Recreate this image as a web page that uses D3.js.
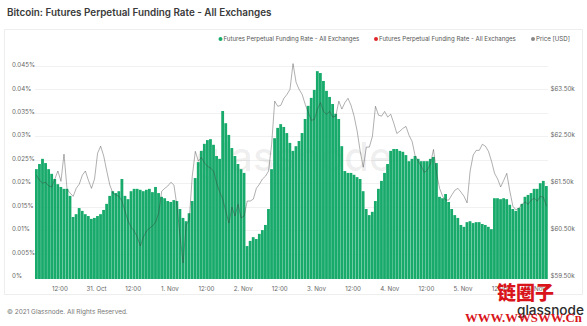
<!DOCTYPE html>
<html>
<head>
<meta charset="utf-8">
<script src="https://cdn.jsdelivr.net/npm/d3@7"></script>
<style>
  body { margin: 0; background: #fff; }
  svg { display: block; font-family: Inter, 'Noto Sans', sans-serif; }
</style>
</head>
<body>
<div id="chart"></div>
<script>
// hourly data, first bar = 30 Oct 2021 04:00 UTC
const startTime = Date.UTC(2021, 9, 30, 4);
const hour = 3600 * 1000;

// funding rate in percent
const fundingRate = [
  0.0230, 0.0241, 0.0252, 0.0243, 0.0230, 0.0220, 0.0209, 0.0198, 0.0192, 0.0188, 0.0188, 0.0173,
  0.0128, 0.0134, 0.0147, 0.0141, 0.0134, 0.0130, 0.0124, 0.0126, 0.0130, 0.0134, 0.0143, 0.0156,
  0.0173, 0.0183, 0.0179, 0.0183, 0.0209, 0.0173, 0.0166, 0.0183, 0.0188, 0.0188, 0.0186, 0.0183,
  0.0186, 0.0188, 0.0181, 0.0192, 0.0179, 0.0171, 0.0168, 0.0162, 0.0160, 0.0164, 0.0162, 0.0145,
  0.0126, 0.0119, 0.0136, 0.0162, 0.0211, 0.0245, 0.0269, 0.0284, 0.0292, 0.0294, 0.0282, 0.0258,
  0.0252, 0.0354, 0.0328, 0.0303, 0.0275, 0.0258, 0.0241, 0.0230, 0.0222, 0.0066, 0.0077, 0.0085,
  0.0081, 0.0092, 0.0100, 0.0111, 0.0145, 0.0230, 0.0296, 0.0318, 0.0326, 0.0320, 0.0307, 0.0286,
  0.0269, 0.0279, 0.0290, 0.0307, 0.0337, 0.0365, 0.0382, 0.0399, 0.0439, 0.0435, 0.0418, 0.0397,
  0.0384, 0.0369, 0.0348, 0.0337, 0.0279, 0.0226, 0.0222, 0.0222, 0.0218, 0.0213, 0.0209, 0.0183,
  0.0145, 0.0132, 0.0139, 0.0162, 0.0188, 0.0205, 0.0222, 0.0241, 0.0269, 0.0273, 0.0273, 0.0269,
  0.0267, 0.0260, 0.0247, 0.0252, 0.0258, 0.0252, 0.0247, 0.0247, 0.0247, 0.0252, 0.0256, 0.0243,
  0.0171, 0.0168, 0.0177, 0.0160, 0.0145, 0.0132, 0.0126, 0.0111, 0.0107, 0.0117, 0.0119, 0.0115,
  0.0117, 0.0117, 0.0113, 0.0111, 0.0107, 0.0102, 0.0168, 0.0168, 0.0166, 0.0168, 0.0166, 0.0154,
  0.0145, 0.0141, 0.0147, 0.0156, 0.0171, 0.0175, 0.0179, 0.0188, 0.0188, 0.0200, 0.0205, 0.0194
];

// BTC price, USD
const priceUsd = [
  61670, 61560, 61500, 61520, 61440, 61420, 61590, 61760, 61540, 62120, 61370, 61290,
  61220, 61390, 61480, 61670, 61760, 61560, 61390, 61590, 62140, 62290, 62080, 61760,
  61460, 61290, 61250, 61220, 61120, 60900, 60690, 60560, 60480, 60350, 60160, 60350,
  60480, 60540, 60590, 60670, 60860, 61330, 61390, 61440, 61520, 61460, 61010, 60370,
  59800, 60610, 60710, 61650, 62180, 61970, 62050, 61930, 61860, 61820, 61760, 61500,
  61310, 61160, 60900, 60650, 60990, 60800, 61050, 60760, 60800, 61120, 61120, 61160,
  61390, 61480, 61590, 61650, 61760, 62330, 63250, 63140, 63160, 63310, 63390, 63500,
  64050, 63650, 63500, 63390, 63180, 63010, 62840, 62860, 63080, 63220, 63030, 62970,
  63030, 62910, 62930, 63250, 63080, 63220, 63310, 63160, 62930, 62610, 62180, 61840,
  62270, 62270, 62500, 63140, 62950, 62930, 63030, 62910, 62970, 62780, 62560, 62610,
  62670, 62710, 62520, 62390, 62080, 61970, 61860, 61730, 61780, 61910, 62220, 61710,
  61390, 61220, 61140, 61140, 61250, 61350, 61390, 61310, 61220, 61080, 61760, 62100,
  62200, 62200, 62330, 62290, 62180, 61970, 61710, 61590, 61420, 61560, 61710, 61330,
  61010, 60930, 60970, 61050, 61100, 61050, 61140, 61180, 61120, 61220, 61200, 61010
];

const rateTicks = [0, 0.005, 0.01, 0.015, 0.02, 0.025, 0.03, 0.035, 0.04, 0.045];
const priceTicks = [59500, 60500, 61500, 62500, 63500];
const legendLabels = ['Futures Perpetual Funding Rate - All Exchanges', 'Futures Perpetual Funding Rate - All Exchanges', 'Price [USD]'];
const legendColors = ['#1aab6d', '#e0262b', '#888'];

const width = 587;
const height = 326;
const green = '#17aa6b';

const svg = d3.select('#chart')
  .append('svg')
  .attr('width', width)
  .attr('height', height);

// stretch/shrink a text so it spans a given width (keeps glyph shape)
const fitWidth = (sel, w) => {
  const cur = sel.node().getComputedTextLength();
  const fs = parseFloat(sel.attr('font-size'));
  sel.attr('font-size', (fs * w) / cur);
};

const title = svg.append('text')
  .attr('x', 7)
  .attr('y', 16)
  .attr('font-size', 11)
  .attr('font-weight', 600)
  .attr('fill', '#3a3a3a')
  .text('Bitcoin: Futures Perpetual Funding Rate - All Exchanges');
fitWidth(title, 265);

// card
svg.append('rect')
  .attr('x', 4.5)
  .attr('y', 29.5)
  .attr('width', 578)
  .attr('height', 265)
  .attr('fill', 'none')
  .attr('stroke', '#eeeeee');

// legend
const legendX = [220.5, 376, 533];
const legendW = [136, 137, 34];
legendLabels.forEach((label, i) => {
  svg.append('circle')
    .attr('cx', legendX[i])
    .attr('cy', 39)
    .attr('r', 2)
    .attr('fill', legendColors[i]);
  const t = svg.append('text')
    .attr('x', legendX[i] + 3)
    .attr('y', 41)
    .attr('font-size', 6)
    .attr('fill', '#555')
    .text(label);
  fitWidth(t, legendW[i]);
});

// scales
const x = d3.scaleUtc()
  .domain([new Date(startTime), new Date(startTime + fundingRate.length * hour)])
  .range([35, 548]);
const yRate = d3.scaleLinear().domain([0, 0.045]).range([277, 66]);
const yPrice = d3.scaleLinear().domain([59500, 63500]).range([277, 89.4]);

// grid
svg.append('g')
  .selectAll('line')
  .data(rateTicks.slice(1))
  .enter()
  .append('line')
  .attr('x1', 35)
  .attr('x2', 548)
  .attr('y1', (d) => Math.round(yRate(d)) + 0.5)
  .attr('y2', (d) => Math.round(yRate(d)) + 0.5)
  .attr('stroke', '#f1f1f1');

// watermark behind the bars
svg.append('text')
  .attr('x', 294)
  .attr('y', 171)
  .attr('text-anchor', 'middle')
  .attr('font-size', 40)
  .attr('font-weight', 500)
  .attr('fill', '#000')
  .attr('fill-opacity', 0.07)
  .text('glassnode');

// bars
const times = fundingRate.map((d, i) => new Date(startTime + i * hour));
svg.append('g')
  .selectAll('rect')
  .data(fundingRate)
  .enter()
  .append('rect')
  .attr('x', (d, i) => x(times[i]))
  .attr('width', (d, i) => x(new Date(+times[i] + hour)) - x(times[i]) - 0.25)
  .attr('y', (d) => yRate(d))
  .attr('height', (d) => yRate(0) - yRate(d) + 2)
  .attr('fill', green);

// price line
const line = d3.line()
  .x((d, i) => x(new Date(+times[i] + hour / 2)))
  .y((d) => yPrice(d));
svg.append('path')
  .datum(priceUsd)
  .attr('d', line)
  .attr('fill', 'none')
  .attr('stroke', '#3a3a3a')
  .attr('stroke-opacity', 0.5)
  .attr('stroke-width', 0.8);

// left axis
const leftAxis = svg.append('g')
  .call(d3.axisLeft(yRate).tickValues(rateTicks).tickSize(0)
    .tickFormat((d) => `${d3.format('.3~f')(d)}%`));
leftAxis.select('.domain').remove();
leftAxis.selectAll('text')
  .attr('x', 12)
  .attr('dy', '0.1em')
  .attr('text-anchor', 'start')
  .attr('font-family', 'Inter, sans-serif')
  .attr('font-size', 6.2)
  .attr('fill', '#666');

// right axis
const rightAxis = svg.append('g')
  .attr('transform', 'translate(548,0)')
  .call(d3.axisRight(yPrice).tickValues(priceTicks).tickSize(0)
    .tickFormat((d) => `$${d3.format('.2f')(d / 1000)}k`));
rightAxis.select('.domain').remove();
rightAxis.selectAll('text')
  .attr('x', 2.5)
  .attr('dy', '0.1em')
  .attr('font-family', 'Inter, sans-serif')
  .attr('font-size', 6.2)
  .attr('fill', '#666');

// bottom axis
const xTicks = d3.utcHour.every(12).range(new Date(startTime), new Date(startTime + fundingRate.length * hour));
const bottomAxis = svg.append('g')
  .attr('transform', 'translate(0,284)')
  .call(d3.axisBottom(x).tickValues(xTicks).tickSize(0)
    .tickFormat((d) => (d.getUTCHours() === 0 ? d3.utcFormat('%-d. %b')(d) : '12:00')));
bottomAxis.select('.domain').remove();
bottomAxis.selectAll('text')
  .attr('font-family', 'Inter, sans-serif')
  .attr('font-size', 6.2)
  .attr('fill', '#666');

// footer
const footer = svg.append('text')
  .attr('x', 7)
  .attr('y', 314)
  .attr('font-size', 6.5)
  .attr('fill', '#777')
  .text('© 2021 Glassnode. All Rights Reserved.');
fitWidth(footer, 121);

const logo = svg.append('text')
  .attr('x', 517)
  .attr('y', 315)
  .attr('font-size', 15)
  .attr('font-weight', 500)
  .attr('fill', '#2b2b2b')
  .text('glassnode');
fitWidth(logo, 67);

// overlay stamp from the repost site
svg.append('text')
  .attr('x', 497)
  .attr('y', 300)
  .attr('font-family', "'Noto Sans CJK SC', sans-serif")
  .attr('font-size', 19)
  .attr('font-weight', 900)
  .attr('fill', '#d9141b')
  .text('链圈子');
const stamp = svg.append('text')
  .attr('x', 465)
  .attr('y', 322)
  .attr('font-family', "'Liberation Serif', serif")
  .attr('font-size', 15)
  .attr('font-weight', 700)
  .attr('fill', '#d9141b')
  .text('WWW.WWSWW.Cn');
fitWidth(stamp, 117);
</script>
</body>
</html>
